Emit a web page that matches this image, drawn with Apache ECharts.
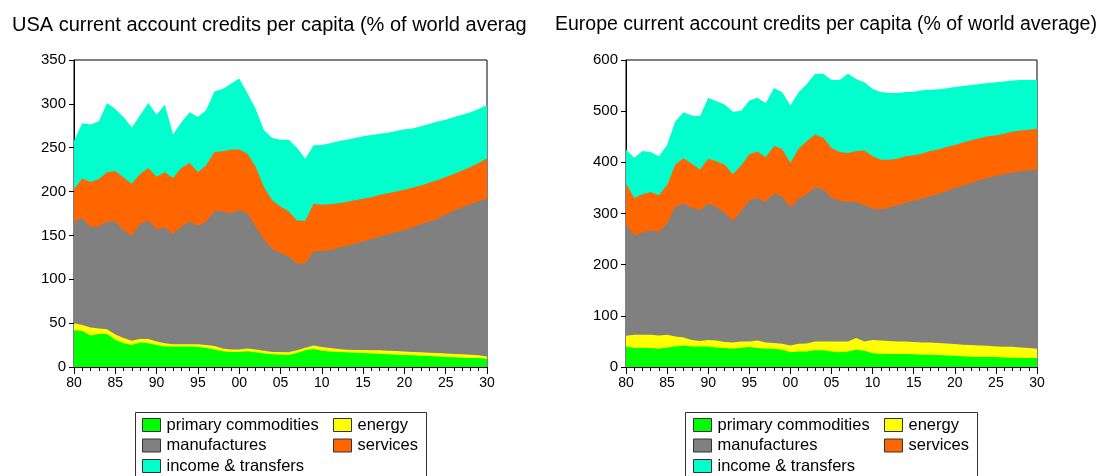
<!DOCTYPE html>
<html>
<head>
<meta charset="utf-8">
<script src="https://cdn.jsdelivr.net/npm/echarts@6/dist/echarts.min.js"></script>
<style>
  html, body { margin: 0; padding: 0; background: #fff; }
  #wrap { position: relative; width: 1111px; height: 476px; overflow: hidden; }
  #usa { position: absolute; left: 0; top: 0; width: 527px; height: 476px; }
  #eur { position: absolute; left: 527px; top: 0; width: 584px; height: 476px; }
</style>
</head>
<body>
<div id="wrap"><div id="usa"></div><div id="eur"></div></div>
<script>
// Years on the horizontal axis, 1980..2030
const years = [];
for (let y = 1980; y <= 2030; y++) years.push(y);

const seriesNames = ['primary commodities', 'energy', 'manufactures', 'services', 'income & transfers'];
const seriesColors = ['#00ff00', '#ffff00', '#808080', '#ff6600', '#00ffcc'];

// USA, % of world average, per component
const usaPrimary = [42, 41, 36, 37.5, 37.5, 31, 27, 25, 28, 27, 25, 23.5, 23.5, 23.5, 23.5, 23, 21.6, 20, 18, 17, 17, 18, 16.7, 15.5, 14.5, 14, 13.6, 16, 19, 20.5, 18.6, 17.8, 17, 16.7, 16.3, 16, 15.5, 15, 14.4, 14, 13.6, 13.3, 12.9, 12.5, 12, 11.4, 11, 10.6, 10.2, 10.2, 9.5];
const usaEnergy = [8, 7, 9, 6.5, 5.5, 6, 6, 5, 4, 5, 4, 3.5, 2.5, 2.5, 2.5, 3, 3.4, 4, 3, 3, 3, 3, 3.3, 3, 2.5, 3, 3.1, 3, 3, 4.1, 4.1, 3.8, 3.5, 3, 3, 3.3, 3.5, 4, 4.2, 4.2, 4.2, 3.7, 3.8, 3.8, 4, 4.1, 3.8, 3.8, 3.8, 3.1, 2.5];
const usaManufactures = [115.5, 122, 115, 116, 123, 129, 123, 119.6, 131, 135, 128, 132, 126, 134, 140, 135, 141, 153.6, 156.6, 155, 159, 154, 140, 126.5, 117.5, 113, 109.1, 99, 96, 107.4, 109.3, 111.4, 115.5, 118.3, 121.2, 123.7, 127, 129.5, 132.4, 135.8, 138.2, 142, 146.3, 149.2, 153, 158.5, 163.2, 167.6, 171.6, 175.7, 180];
const usaServices = [37.5, 45, 51, 54, 56, 57.5, 60, 59.4, 57, 60, 60, 63, 63.5, 67, 66.5, 61, 64, 67.4, 68.4, 73, 69, 68, 68, 60, 55.5, 53, 51.8, 49, 48.7, 54, 53, 52.6, 50.7, 50, 49.5, 48.7, 47.6, 47.5, 47, 46, 46, 45.5, 44, 44.5, 44, 42.7, 42, 42, 42.4, 43.6, 46];
const usaIncome = [55, 63, 65.5, 66, 79, 70.5, 69, 64, 67, 74, 70.5, 77, 49.5, 52, 58, 63, 63, 69, 71, 75, 81, 69, 66, 65, 71, 76, 81.4, 83, 70.8, 66.7, 68, 69.4, 70.8, 71, 71, 71.3, 70.8, 70, 69, 69, 69, 67.5, 67.6, 67, 67, 65.3, 65, 63.5, 62.5, 61.4, 61];

// Europe, % of world average, per component
const eurPrimary = [40, 37, 37.7, 37, 35.7, 38, 40, 42, 40, 40, 40, 38, 37, 35.7, 37.7, 39, 37, 35.7, 35.7, 33.8, 28.6, 30.5, 30.5, 32.5, 32.5, 30.5, 29, 30.5, 33.8, 31.8, 27, 26, 25.3, 25.3, 25.3, 24.7, 24, 24, 23.4, 22.7, 22, 20.8, 20, 19.5, 19.5, 19.5, 18.8, 18, 17.5, 17.5, 17.5];
const eurEnergy = [21, 26, 25.3, 26, 26, 25, 19.7, 15.8, 13, 11, 13, 14, 12, 12.3, 12.3, 11, 15, 12.3, 11.1, 11.7, 13.4, 15, 15.5, 17.5, 17.5, 19.5, 21, 19.5, 22.7, 18.2, 26, 26, 25.3, 24.7, 24.7, 24.3, 24, 24, 23.4, 23.3, 22.8, 22.7, 22.9, 22.5, 22.1, 20.5, 20.8, 21.6, 20.5, 19.5, 18.2];
const eurManufactures = [218, 193.5, 200, 204.5, 201.9, 217.5, 253.3, 261.7, 258.7, 255.5, 266.5, 261, 252, 237.7, 254, 276, 278.5, 274.7, 292.2, 287, 269.7, 283.5, 291, 302, 296.8, 281, 274.7, 272.7, 266.2, 266, 256.7, 256, 261.1, 266, 270.8, 275.7, 281, 285.8, 290.9, 298, 305.2, 311, 316.8, 323, 327.9, 334, 337, 340.4, 344.5, 347.4, 350];
const eurServices = [79, 74, 74.7, 74.5, 72.1, 74.5, 83, 88.5, 85.3, 79.5, 87.5, 89, 94.5, 90.9, 90, 89.6, 90.5, 87.3, 93, 93.5, 87.3, 97.6, 104, 102.5, 101.2, 97, 95.3, 95.3, 99.3, 107, 102, 97, 93.3, 91, 90.9, 88.9, 88, 88.2, 87.3, 86, 84, 84.5, 83.3, 82, 81.5, 78.6, 79.4, 80, 79.5, 79.2, 79.9];
const eurIncome = [67, 78.5, 84.3, 78, 76.3, 79, 84.5, 90, 94.5, 104, 119, 117.5, 117.5, 122.4, 107, 105.4, 105, 105.6, 113.5, 111, 112, 110.4, 112, 118.5, 125, 133, 141, 155, 141, 133.5, 131.8, 132.7, 130.7, 128.7, 126, 124.4, 124, 120, 118, 115, 113.4, 110, 108, 106, 104, 103.9, 102, 99.7, 99, 97.4, 95.4];

const FONT = 'Liberation Sans, Arial, sans-serif';

// Legend slots: [series index, column, row]
const legendSlots = [[0, 0, 0], [1, 1, 0], [2, 0, 1], [3, 1, 1], [4, 0, 2]];
const legendRowCenters = [425, 445.5, 466];

function buildOption(cfg) {
  const groups = cfg.values;
  // Running totals: each band is drawn from the axis up to the sum of itself
  // and every component below it; upper bands sit underneath lower ones.
  const running = years.map(() => 0);
  const series = groups.map((vals, i) => {
    const data = years.map((yr, k) => {
      running[k] += vals[k];
      return [yr, +running[k].toFixed(2)];
    });
    return {
      name: seriesNames[i],
      type: 'line',
      z: 10 - i,
      symbol: 'none',
      silent: true,
      color: seriesColors[i],
      lineStyle: { width: 0 },
      areaStyle: { color: seriesColors[i], opacity: 1 },
      data: data
    };
  });
  const legends = legendSlots.map(([si, col, row]) => ({
    data: [seriesNames[si]],
    left: cfg.legendCols[col],
    top: legendRowCenters[row] - 8.5,
    padding: 0,
    itemWidth: 18,
    itemHeight: 13,
    itemGap: 0,
    icon: 'rect',
    selectedMode: false,
    itemStyle: { borderColor: '#333', borderWidth: 1 },
    textStyle: { fontFamily: FONT, fontSize: 16.5, color: '#000', lineHeight: 17, padding: [0, 0, 0, 1] }
  }));
  return {
    animation: false,
    title: {
      text: cfg.title,
      left: cfg.titleLeft,
      top: 15,
      padding: 0,
      textStyle: { fontFamily: FONT, fontSize: cfg.titleSize, fontWeight: 'normal', color: '#000' }
    },
    grid: {
      left: cfg.gridLeft, right: cfg.gridRight, top: 60, bottom: 109,
      show: true, borderColor: '#000', borderWidth: 1, backgroundColor: 'transparent'
    },
    xAxis: {
      type: 'value', min: 1980, max: 2030, interval: 5,
      axisLine: { lineStyle: { color: '#000', width: 1 } },
      axisTick: { length: 7, lineStyle: { color: '#000' } },
      minorTick: { show: true, splitNumber: 5, length: 4, lineStyle: { color: '#000' } },
      splitLine: { show: false },
      axisLabel: {
        margin: 9, fontFamily: FONT, fontSize: 14, color: '#000',
        formatter: v => String(v % 100).padStart(2, '0')
      }
    },
    yAxis: {
      type: 'value', min: 0, max: cfg.yMax, interval: cfg.yStep,
      axisLine: { show: true, lineStyle: { color: '#000', width: 1 } },
      axisTick: { show: true, length: 5, lineStyle: { color: '#000' } },
      splitLine: { show: false },
      axisLabel: { margin: 8, fontFamily: FONT, fontSize: 15, color: '#000' }
    },
    legend: legends,
    graphic: [{
      type: 'rect',
      shape: { x: cfg.boxX + 0.5, y: 412.5, width: cfg.boxW, height: 80 },
      style: { fill: 'none', stroke: '#333', lineWidth: 1 },
      silent: true
    }],
    series: series
  };
}

const usaChart = echarts.init(document.getElementById('usa'), null, { renderer: 'canvas' });
usaChart.setOption(buildOption({
  title: 'USA current account credits per capita (% of world average)',
  titleLeft: 12, titleSize: 20,
  gridLeft: 74, gridRight: 527 - 487,
  yMax: 350, yStep: 50,
  values: [usaPrimary, usaEnergy, usaManufactures, usaServices, usaIncome],
  legendCols: [142, 333],
  boxX: 135, boxW: 291
}));

const eurChart = echarts.init(document.getElementById('eur'), null, { renderer: 'canvas' });
eurChart.setOption(buildOption({
  title: 'Europe current account credits per capita (% of world average)',
  titleLeft: 555 - 527, titleSize: 19.5,
  gridLeft: 626 - 527, gridRight: 1111 - 1037,
  yMax: 600, yStep: 100,
  values: [eurPrimary, eurEnergy, eurManufactures, eurServices, eurIncome],
  legendCols: [693 - 527, 884 - 527],
  boxX: 685 - 527, boxW: 292
}));
</script>
</body>
</html>
